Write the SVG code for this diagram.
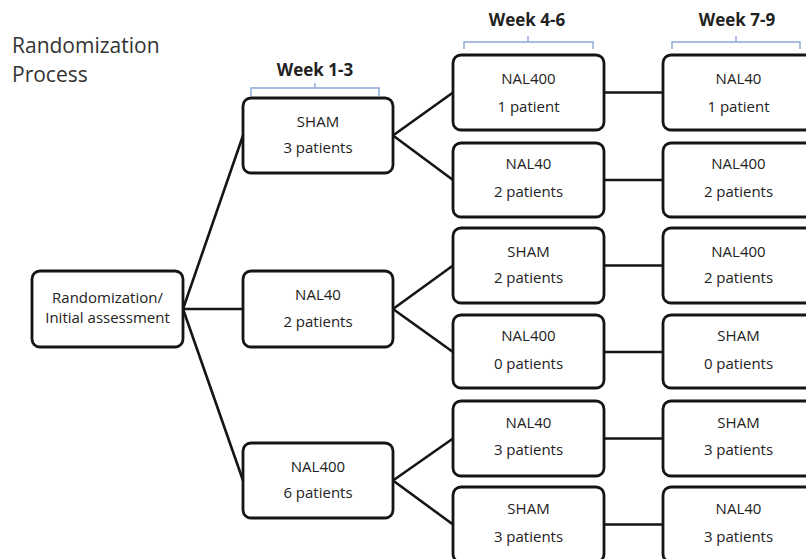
<svg xmlns="http://www.w3.org/2000/svg" width="806" height="559" viewBox="0 0 806 559">
<style>
.box{fill:#fff;stroke:#151515;stroke-width:2.8}
.t{font-family:"Open Sans","Liberation Sans",sans-serif;font-size:15px;fill:#222;text-anchor:middle}
.wk{font-family:"Open Sans","Liberation Sans",sans-serif;font-size:17px;font-weight:bold;fill:#222;text-anchor:middle}
.ttl{font-family:"Open Sans","Liberation Sans",sans-serif;font-size:21px;fill:#333}
.br{fill:none;stroke:#8ca5d6;stroke-width:1.4}
.c{stroke:#151515;stroke-width:2.6;fill:none}
</style>
<rect width="806" height="559" fill="#fff"/>
<g id="title">
<text class="ttl" x="12" y="53">Randomization</text>
<text class="ttl" x="12" y="82">Process</text>
</g>
<g id="headers">
<text class="wk" x="315" y="76">Week 1-3</text>
<path class="br" d="M251 96V88H379V96M315 88V83"/>
<text class="wk" x="527" y="26">Week 4-6</text>
<path class="br" d="M464 49V42H593V49M528 42V36"/>
<text class="wk" x="737" y="26">Week 7-9</text>
<path class="br" d="M672 49V42H800V49M736 42V36"/>
</g>
<g id="connectors">
<path class="c" d="M183 309L243 135.5M183 309H243M183 309L243 480.5"/>
<path class="c" d="M393 135.5L453 92.5M393 135.5L453 180"/>
<path class="c" d="M393 309L453 265.5M393 309L453 352"/>
<path class="c" d="M393 480.5L453 438.5M393 480.5L453 524.5"/>
<path class="c" d="M604 92.5H663M604 180H663M604 265.5H663M604 352H663M604 438.5H663M604 524.5H663"/>
</g>
<g id="start">
<rect class="box" x="32" y="271" width="151" height="76" rx="8"/>
<text class="t" x="107.5" y="303">Randomization/</text>
<text class="t" x="107.5" y="323">Initial assessment</text>
</g>
<g id="w1_sham">
<rect class="box" x="243" y="98" width="150" height="75" rx="8"/>
<text class="t" x="318" y="127">SHAM</text>
<text class="t" x="318" y="153">3 patients</text>
</g>
<g id="w1_nal40">
<rect class="box" x="243" y="271" width="150" height="76" rx="8"/>
<text class="t" x="318" y="300">NAL40</text>
<text class="t" x="318" y="327">2 patients</text>
</g>
<g id="w1_nal400">
<rect class="box" x="243" y="443" width="150" height="75" rx="8"/>
<text class="t" x="318" y="472">NAL400</text>
<text class="t" x="318" y="498">6 patients</text>
</g>
<g id="w4_r1">
<rect class="box" x="453" y="55" width="151" height="75" rx="8"/>
<text class="t" x="528.5" y="84">NAL400</text>
<text class="t" x="528.5" y="112">1 patient</text>
</g>
<g id="w4_r2">
<rect class="box" x="453" y="143" width="151" height="74" rx="8"/>
<text class="t" x="528.5" y="169">NAL40</text>
<text class="t" x="528.5" y="197">2 patients</text>
</g>
<g id="w4_r3">
<rect class="box" x="453" y="228" width="151" height="75" rx="8"/>
<text class="t" x="528.5" y="257">SHAM</text>
<text class="t" x="528.5" y="283">2 patients</text>
</g>
<g id="w4_r4">
<rect class="box" x="453" y="315" width="151" height="73" rx="8"/>
<text class="t" x="528.5" y="341">NAL400</text>
<text class="t" x="528.5" y="369">0 patients</text>
</g>
<g id="w4_r5">
<rect class="box" x="453" y="401" width="151" height="75" rx="8"/>
<text class="t" x="528.5" y="428">NAL40</text>
<text class="t" x="528.5" y="455">3 patients</text>
</g>
<g id="w4_r6">
<rect class="box" x="453" y="487" width="151" height="75" rx="8"/>
<text class="t" x="528.5" y="514">SHAM</text>
<text class="t" x="528.5" y="542">3 patients</text>
</g>
<g id="w7_r1">
<rect class="box" x="663" y="55" width="151" height="75" rx="8"/>
<text class="t" x="738.5" y="84">NAL40</text>
<text class="t" x="738.5" y="112">1 patient</text>
</g>
<g id="w7_r2">
<rect class="box" x="663" y="143" width="151" height="74" rx="8"/>
<text class="t" x="738.5" y="169">NAL400</text>
<text class="t" x="738.5" y="197">2 patients</text>
</g>
<g id="w7_r3">
<rect class="box" x="663" y="228" width="151" height="75" rx="8"/>
<text class="t" x="738.5" y="257">NAL400</text>
<text class="t" x="738.5" y="283">2 patients</text>
</g>
<g id="w7_r4">
<rect class="box" x="663" y="315" width="151" height="73" rx="8"/>
<text class="t" x="738.5" y="341">SHAM</text>
<text class="t" x="738.5" y="369">0 patients</text>
</g>
<g id="w7_r5">
<rect class="box" x="663" y="401" width="151" height="75" rx="8"/>
<text class="t" x="738.5" y="428">SHAM</text>
<text class="t" x="738.5" y="455">3 patients</text>
</g>
<g id="w7_r6">
<rect class="box" x="663" y="487" width="151" height="75" rx="8"/>
<text class="t" x="738.5" y="514">NAL40</text>
<text class="t" x="738.5" y="542">3 patients</text>
</g>
</svg>
